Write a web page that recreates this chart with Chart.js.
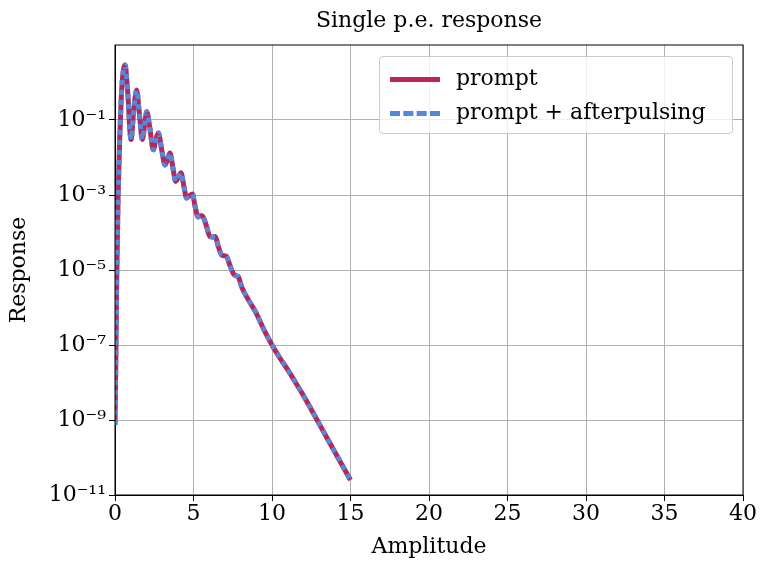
<!DOCTYPE html>
<html><head><meta charset="utf-8">
<script src="https://cdn.jsdelivr.net/npm/chart.js@4/dist/chart.umd.min.js"></script>
<style>
body{margin:0;background:#fff;font-family:"DejaVu Serif",serif}
#wrap{position:relative;width:769px;height:568px}
#title{position:absolute;top:7px;left:0;width:858px;text-align:center;font-size:22px}
#leg{position:absolute;left:379px;top:56px;width:352px;height:76px;border:1px solid #ccc;border-radius:4px;background:rgba(255,255,255,0.8);font-size:22px}
.row{position:absolute;left:10px;height:30px;line-height:30px}
.sw{display:inline-block;width:50px;vertical-align:middle;margin-right:16px}
</style></head><body>
<div id="wrap"><canvas id="c" width="769" height="568"></canvas>
<div id="title">Single p.e. response</div>
<div id="leg">
<div class="row" style="top:6px"><span class="sw" style="border-top:5px solid #bf2456"></span>prompt</div>
<div class="row" style="top:40px"><span class="sw" style="height:0;border-top:5px dashed #5588d8"></span>prompt + afterpulsing</div>
</div></div>
<script>
const amplitude=[0,0.05,0.1,0.2,0.3,0.4,0.5,0.64,0.8,1.02,1.2,1.38,1.55,1.74,1.9,2.02,2.2,2.44,2.6,2.76,3.0,3.18,3.35,3.5,3.7,3.86,4.05,4.2,4.4,4.56,4.75,4.93,5.1,5.3,5.45,5.56,5.8,6.05,6.2,6.37,6.6,6.79,6.95,7.1,7.3,7.53,7.7,7.85,8.07,8.5,9,9.5,10,10.5,11,11.5,12,13,14,15];
const prompt=[7.4e-10,3.2e-8,3.2e-6,1e-3,3.2e-2,0.4,1.6,2.95,0.63,0.03,0.2,0.63,0.15,0.03,0.08,0.166,0.07,0.016,0.03,0.045,0.014,6.3e-3,9e-3,0.0132,5e-3,2.3e-3,3e-3,3.9e-3,1.6e-3,8.3e-4,9.5e-4,1.07e-3,5e-4,2.6e-4,2.8e-4,2.8e-4,1.6e-4,7.8e-5,7.6e-5,7.8e-5,4e-5,2.5e-5,2.4e-5,2.3e-5,1.4e-5,8.1e-6,7e-6,6.6e-6,3.5e-6,1.6e-6,7e-7,2.5e-7,1e-7,4.5e-8,2.2e-8,1e-8,4.5e-9,8e-10,1.4e-10,2.5e-11];
const afterpulsing=prompt.slice();
const yTicks=[1e-11,1e-9,1e-7,1e-5,1e-3,1e-1];
const xTicks=[0,5,10,15,20,25,30,35,40];
const sup={'-':'⁻','0':'⁰','1':'¹','2':'²','3':'³','4':'⁴','5':'⁵','6':'⁶','7':'⁷','8':'⁸','9':'⁹'};
const F={family:'"DejaVu Serif", serif',size:22};
const box={id:'box',afterDraw(c){const a=c.chartArea,x=c.ctx;x.save();x.strokeStyle='#000';x.lineWidth=1;x.strokeRect(a.left,a.top,a.right-a.left,a.bottom-a.top);x.restore();}};
new Chart(document.getElementById('c'),{type:'line',
data:{datasets:[
{data:amplitude.map((v,i)=>({x:v,y:prompt[i]})),borderColor:'#bf2456',borderWidth:5,pointRadius:0,cubicInterpolationMode:'monotone',order:2},
{data:amplitude.map((v,i)=>({x:v,y:afterpulsing[i]})),borderColor:'#5588d8',borderWidth:5,borderDash:[5,5],pointRadius:0,cubicInterpolationMode:'monotone',order:1}]},
options:{responsive:false,animation:false,layout:{padding:{top:45,right:26,left:0,bottom:0}},
plugins:{legend:{display:false},tooltip:{enabled:false}},
scales:{
x:{type:'linear',min:0,max:40,afterBuildTicks(s){s.ticks=xTicks.map(v=>({value:v}));},afterFit(s){s.height=73;},
 grid:{color:'#b0b0b0',tickLength:6,tickColor:'#000'},border:{color:'#000'},
 ticks:{color:'#000',font:F,maxRotation:0,padding:0},
 title:{display:true,text:'Amplitude',color:'#000',font:F,padding:{top:0,bottom:8}}},
y:{type:'logarithmic',min:1e-11,max:10,afterBuildTicks(s){s.ticks=yTicks.map(v=>({value:v}));},afterFit(s){s.width=115;},
 grid:{color:'#b0b0b0',tickLength:6,tickColor:'#000'},border:{color:'#000'},
 ticks:{color:'#000',font:F,padding:3,callback:v=>'10'+String(Math.round(Math.log10(v))).split('').map(ch=>sup[ch]).join('')},
 title:{display:true,text:'Response',color:'#000',font:F,padding:{bottom:0,top:6}}}}},
plugins:[box]});
</script></body></html>
